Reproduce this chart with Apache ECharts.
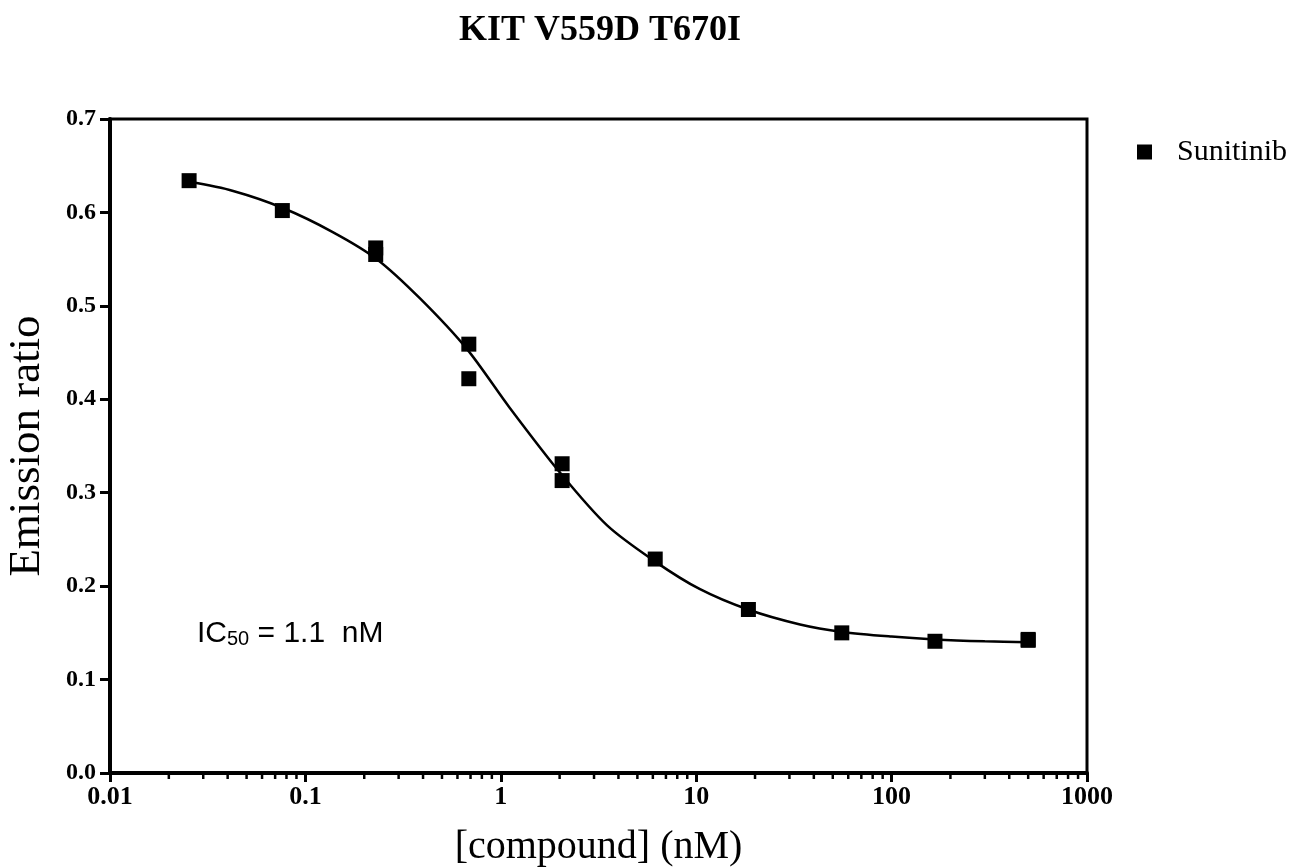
<!DOCTYPE html>
<html>
<head>
<meta charset="utf-8">
<script src="https://cdn.jsdelivr.net/npm/echarts@6/dist/echarts.min.js"></script>
<style>
html,body{margin:0;padding:0;background:#fff;}
#chart{width:1303px;height:867px;}
</style>
</head>
<body>
<div id="chart"></div>
<script>
// ---- data ----
const chartTitle = 'KIT V559D T670I';
const seriesName = 'Sunitinib';
const concentrations = [0.0254, 0.0762, 0.229, 0.686, 2.06, 6.17, 18.5, 55.6, 166.7, 500];
const ratioRep1 = [0.634, 0.602, 0.562, 0.459, 0.331, 0.229, 0.175, 0.150, 0.141, 0.143];
const ratioRep2 = [null, null, 0.555, 0.422, 0.313, null, null, null, null, 0.142];
const fitX = [0.0254, 0.0427, 0.0762, 0.138, 0.232, 0.386, 0.67, 1.11, 2.0, 3.5, 6.2, 10.4, 18.4, 34, 56, 100, 167, 300, 500];
const fitY = [0.633, 0.623, 0.605, 0.579, 0.550, 0.508, 0.454, 0.391, 0.322, 0.265, 0.226, 0.197, 0.175, 0.159, 0.151, 0.146, 0.143, 0.141, 0.140];
const xTickLabels = ['0.01', '0.1', '1', '10', '100', '1000'];
const yTickLabels = ['0.0', '0.1', '0.2', '0.3', '0.4', '0.5', '0.6', '0.7'];
const minorTickMultipliers = [2, 3, 4, 5, 6, 7, 8, 9];
const decades = [0.01, 0.1, 1, 10, 100];

// ---- build options ----
const points = [];
concentrations.forEach((c, i) => {
  if (ratioRep1[i] != null) points.push([c, ratioRep1[i]]);
  if (ratioRep2[i] != null) points.push([c, ratioRep2[i]]);
});
const fitLine = fitX.map((x, i) => [x, fitY[i]]);
const minorTicks = [];
decades.forEach(d => minorTickMultipliers.forEach(m => minorTicks.push([d * m, 0])));

const serif = 'Liberation Serif';
const chart = echarts.init(document.getElementById('chart'), null, {renderer: 'canvas'});
chart.setOption({
  animation: false,
  backgroundColor: '#fff',
  title: {
    text: chartTitle,
    left: 595,
    textAlign: 'center',
    top: 8,
    textStyle: {fontFamily: serif, fontWeight: 'bold', fontSize: 36, color: '#000'}
  },
  legend: {
    data: [{name: seriesName, icon: 'rect', itemStyle: {color: '#000', opacity: 1}}],
    left: 1132,
    top: 131,
    itemWidth: 15,
    itemHeight: 15,
    textStyle: {fontFamily: serif, fontSize: 30, color: '#000', padding: [0, 0, 0, 20], lineHeight: 32}
  },
  grid: {
    left: 110, right: 216, top: 119, bottom: 94,
    containLabel: false,
    outerBoundsMode: 'none',
    show: true, borderColor: '#000', borderWidth: 3, backgroundColor: 'transparent'
  },
  xAxis: {
    type: 'log',
    logBase: 10,
    min: 0.01,
    max: 1000,
    name: '[compound] (nM)',
    nameLocation: 'middle',
    nameGap: 54,
    nameTextStyle: {fontFamily: serif, fontSize: 40, color: '#000'},
    axisLine: {show: true, onZero: false, lineStyle: {color: '#000', width: 4}},
    axisTick: {show: true, inside: false, length: 9, lineStyle: {color: '#000', width: 3}},
    axisLabel: {
      fontFamily: serif, fontWeight: 'bold', fontSize: 26, color: '#000', margin: 11,
      formatter: v => xTickLabels[Math.round(Math.log10(v)) + 2]
    },
    splitLine: {show: false}
  },
  yAxis: {
    type: 'value',
    min: 0,
    max: 0.7,
    interval: 0.1,
    name: 'Emission ratio',
    nameLocation: 'middle',
    nameGap: 60,
    nameTextStyle: {fontFamily: serif, fontSize: 45, color: '#000'},
    axisLine: {show: true, onZero: false, lineStyle: {color: '#000', width: 4}},
    axisTick: {show: true, inside: false, length: 10, lineStyle: {color: '#000', width: 3}},
    axisLabel: {
      fontFamily: serif, fontWeight: 'bold', fontSize: 24, color: '#000', margin: 14,
      formatter: v => yTickLabels[Math.round(v * 10)]
    },
    splitLine: {show: false}
  },
  graphic: [{
    type: 'text',
    left: 197,
    top: 619,
    style: {
      text: '{a|IC}{s|50}{a| = 1.1  nM}',
      rich: {
        a: {fontFamily: 'Liberation Sans', fontSize: 30, fill: '#000', verticalAlign: 'bottom', lineHeight: 36},
        s: {fontFamily: 'Liberation Sans', fontSize: 20, fill: '#000', verticalAlign: 'bottom', lineHeight: 28}
      }
    }
  }],
  series: [
    {
      name: 'fit',
      type: 'line',
      data: fitLine,
      smooth: 0.3,
      showSymbol: false,
      symbol: 'none',
      lineStyle: {color: '#000', width: 2.5},
      z: 3
    },
    {
      name: seriesName,
      type: 'scatter',
      data: points,
      symbol: 'rect',
      symbolSize: 15,
      itemStyle: {color: '#000', opacity: 1},
      z: 4
    },
    {
      name: 'minorTicks',
      type: 'custom',
      data: minorTicks,
      clip: false,
      silent: true,
      z: 5,
      renderItem: (params, api) => {
        const p = api.coord([api.value(0), api.value(1)]);
        return {
          type: 'line',
          shape: {x1: p[0], y1: p[1], x2: p[0], y2: p[1] + 6},
          style: {stroke: '#000', lineWidth: 2.5}
        };
      }
    }
  ]
});
</script>
</body>
</html>
